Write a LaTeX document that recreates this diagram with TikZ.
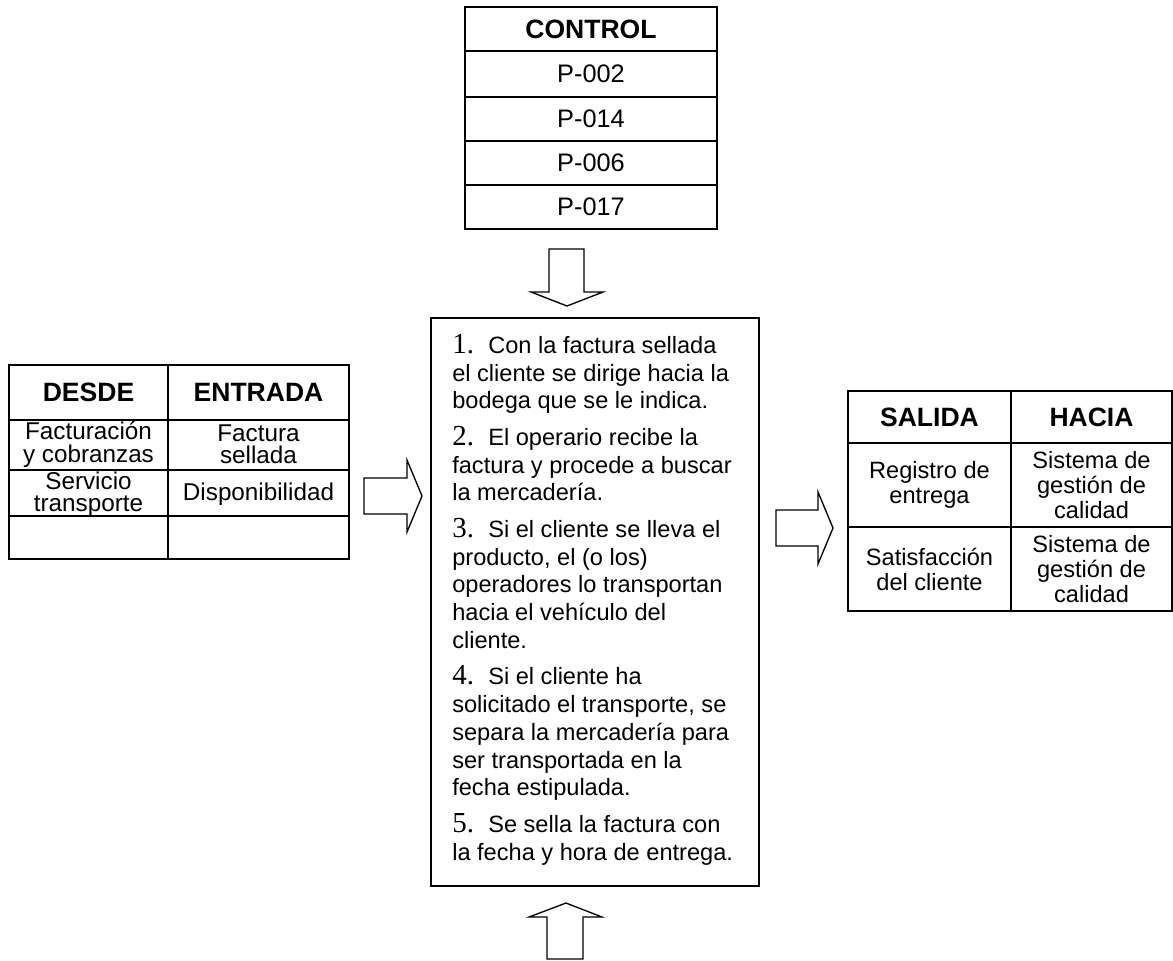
\documentclass[tikz,border=0pt]{standalone}
\usepackage{fontspec}
\setmainfont{Liberation Sans}
\newfontfamily\numfont{Liberation Serif}
\newcommand\stepnum[1]{\makebox[27pt][l]{\numfont\fontsize{21.75pt}{20.8pt}\selectfont #1}}
\begin{document}
\begin{tikzpicture}[x=0.75pt,y=-0.75pt,
  tbl/.style={line width=1.5pt},
  hdr/.style={font=\fontsize{19.9pt}{23pt}\selectfont\bfseries, align=center, inner sep=0pt},
  cell/.style={font=\fontsize{17.7pt}{18.75pt}\selectfont, align=center, inner sep=0pt},
  lcell/.style={font=\fontsize{18.2pt}{16.8pt}\selectfont, align=center, inner sep=0pt},
  ctl/.style={font=\fontsize{19pt}{22pt}\selectfont, inner sep=0pt},
  blockarrow/.style={draw, line width=1pt, fill=white, line join=miter},
  steps/.style={font=\fontsize{17.7pt}{20.8pt}\selectfont, align=left, inner sep=0pt}]
\useasboundingbox (0,0) rectangle (1173,960);

% CONTROL table
\draw[tbl] (465,7) rectangle (717,229);
\foreach \y in {51,97,141,185} \draw[tbl] (465,\y) -- (717,\y);
\node[hdr] (control) at (591,29) {CONTROL};
\node[ctl] (p002) at (591,74) {P-002};
\node[ctl] (p014) at (591,119) {P-014};
\node[ctl] (p006) at (591,163) {P-006};
\node[ctl] (p017) at (591,207) {P-017};

% left table
\draw[tbl] (9,365) rectangle (349,559);
\draw[tbl] (168,365) -- (168,559);
\foreach \y in {420,470,516} \draw[tbl] (9,\y) -- (349,\y);
\node[hdr] (desde) at (88.5,392.5) {DESDE};
\node[hdr] (entrada) at (258.5,392.5) {ENTRADA};
\node[lcell] (fact) at (88.5,444.5) {Facturación\\y cobranzas};
\node[lcell] (fsell) at (258.5,444.5) {Factura\\sellada};
\node[lcell] (serv) at (88.5,494) {Servicio\\transporte};
\node[lcell] (disp) at (258.5,494) {Disponibilidad};

% right table
\draw[tbl] (848,391) rectangle (1172,611);
\draw[tbl] (1011,391) -- (1011,611);
\foreach \y in {443,527} \draw[tbl] (848,\y) -- (1172,\y);
\node[hdr] (salida) at (929.5,417) {SALIDA};
\node[hdr] (hacia) at (1091.5,417) {HACIA};
\node[cell] (reg) at (929.5,485) {Registro de\\entrega};
\node[cell] (sgc1) at (1091.5,485) {Sistema de\\gestión de\\calidad};
\node[cell] (sat) at (929.5,569) {Satisfacción\\del cliente};
\node[cell] (sgc2) at (1091.5,569) {Sistema de\\gestión de\\calidad};

% main process box
\node[draw, line width=1.5pt, minimum width=246pt, minimum height=426pt, inner sep=0pt] (proc) at (595,602) {};
\node[steps, anchor=north west] (stepstext) at (452,334) {%
\stepnum{1.}Con la factura sellada\\
el cliente se dirige hacia la\\
bodega que se le indica.\\[6.6pt]
\stepnum{2.}El operario recibe la\\
factura y procede a buscar\\
la mercadería.\\[6.6pt]
\stepnum{3.}Si el cliente se lleva el\\
producto, el (o los)\\
operadores lo transportan\\
hacia el vehículo del\\
cliente.\\[6.6pt]
\stepnum{4.}Si el cliente ha\\
solicitado el transporte, se\\
separa la mercadería para\\
ser transportada en la\\
fecha estipulada.\\[6.6pt]
\stepnum{5.}Se sella la factura con\\
la fecha y hora de entrega.};

% block arrows
\draw[blockarrow] (549,249) -- (584,249) -- (584,292) -- (603,292) -- (567,306) -- (531,292) -- (549,292) -- cycle;
\draw[blockarrow] (547,959) -- (583,959) -- (583,917) -- (602,917) -- (566,903) -- (529,917) -- (547,917) -- cycle;
\draw[blockarrow] (364,478) -- (407,478) -- (407,460) -- (422,496) -- (407,532) -- (407,514) -- (364,514) -- cycle;
\draw[blockarrow] (776,510) -- (818,510) -- (818,492) -- (833,528) -- (818,564) -- (818,546) -- (776,546) -- cycle;
\end{tikzpicture}
\end{document}
